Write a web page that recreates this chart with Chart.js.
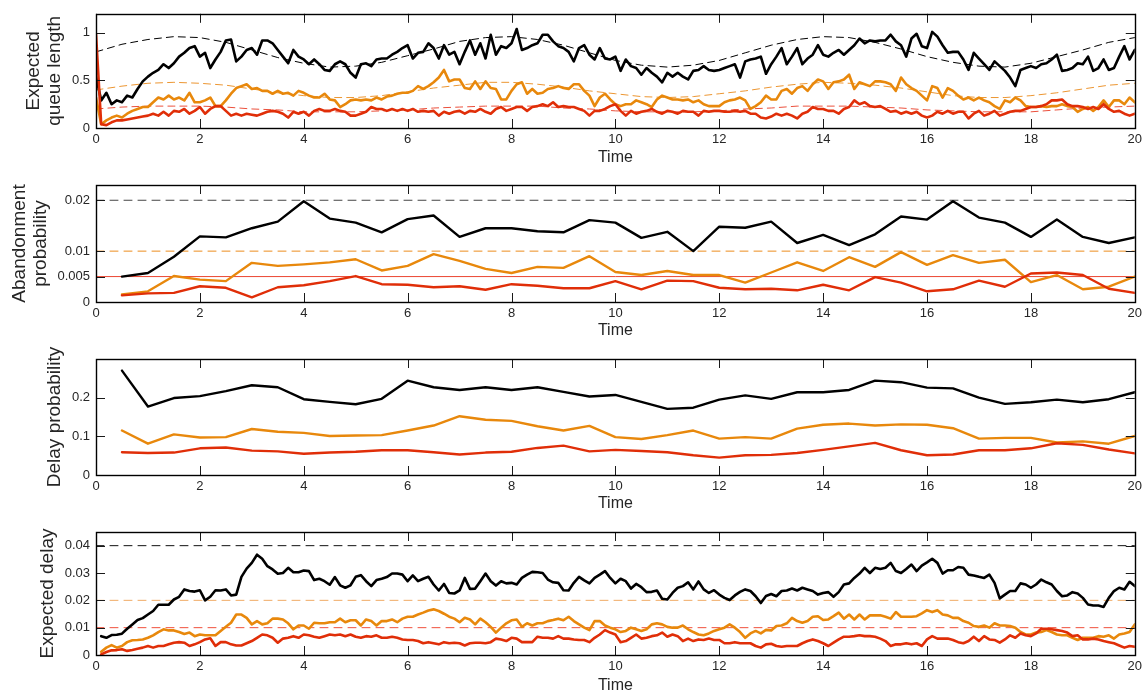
<!DOCTYPE html>
<html>
<head>
<meta charset="utf-8">
<script src="https://cdn.jsdelivr.net/npm/chart.js@4.4.1/dist/chart.umd.min.js"></script>
<style>
  html, body { margin: 0; padding: 0; background: #fff; overflow: hidden; }
  canvas { position: absolute; left: 0; }
</style>
</head>
<body>
<canvas id="queueChart" width="1146" height="167" style="top:0px"></canvas>
<canvas id="abandonChart" width="1146" height="173" style="top:167px"></canvas>
<canvas id="delayProbChart" width="1146" height="173" style="top:340px"></canvas>
<canvas id="delayChart" width="1146" height="182" style="top:513px"></canvas>
<script>
// expected queue length, sampled every 0.1 from t = 0
var queueBlack = [0.54,0.29,0.37,0.25,0.29,0.27,0.34,0.32,0.41,0.49,
  0.54,0.58,0.61,0.67,0.63,0.68,0.75,0.79,0.84,0.86,
  0.75,0.79,0.63,0.72,0.80,0.92,0.93,0.70,0.75,0.82,
  0.84,0.77,0.92,0.92,0.89,0.82,0.75,0.68,0.82,0.75,
  0.72,0.67,0.72,0.67,0.61,0.60,0.67,0.70,0.67,0.58,
  0.53,0.67,0.68,0.65,0.72,0.73,0.73,0.77,0.80,0.84,
  0.87,0.73,0.79,0.80,0.89,0.84,0.73,0.87,0.77,0.80,
  0.67,0.80,0.92,0.77,0.89,0.73,0.98,0.77,0.86,0.84,
  0.89,1.04,0.82,0.84,0.87,0.89,0.98,0.98,0.91,0.86,
  0.84,0.80,0.70,0.84,0.87,0.77,0.72,0.84,0.73,0.72,
  0.75,0.60,0.72,0.65,0.63,0.56,0.63,0.58,0.54,0.48,
  0.58,0.54,0.58,0.54,0.51,0.60,0.61,0.65,0.61,0.60,
  0.61,0.63,0.65,0.67,0.53,0.70,0.72,0.73,0.75,0.57,
  0.67,0.75,0.84,0.67,0.75,0.84,0.67,0.73,0.77,0.87,
  0.77,0.75,0.79,0.82,0.77,0.82,0.87,0.94,0.89,0.92,
  0.91,0.92,0.92,0.98,0.91,0.87,0.75,0.94,0.99,0.86,
  0.84,1.01,0.96,0.87,0.79,0.80,0.80,0.72,0.61,0.79,
  0.73,0.67,0.61,0.70,0.65,0.60,0.53,0.44,0.61,0.63,
  0.65,0.63,0.67,0.68,0.72,0.77,0.60,0.61,0.63,0.68,
  0.67,0.75,0.60,0.63,0.72,0.61,0.63,0.75,0.86,0.72,
  0.82];
var queueOrange = [0.32,0.04,0.08,0.11,0.13,0.11,0.15,0.18,0.20,0.22,
  0.22,0.27,0.32,0.30,0.34,0.30,0.32,0.29,0.37,0.27,
  0.27,0.29,0.32,0.23,0.23,0.29,0.36,0.42,0.44,0.46,
  0.41,0.42,0.39,0.39,0.36,0.39,0.36,0.37,0.34,0.39,
  0.37,0.34,0.32,0.32,0.36,0.30,0.29,0.22,0.25,0.29,
  0.30,0.29,0.30,0.29,0.32,0.30,0.33,0.34,0.36,0.37,
  0.37,0.39,0.44,0.41,0.44,0.48,0.53,0.61,0.49,0.51,
  0.51,0.42,0.41,0.49,0.41,0.49,0.42,0.41,0.30,0.30,
  0.39,0.46,0.48,0.36,0.41,0.36,0.37,0.41,0.42,0.44,
  0.42,0.41,0.46,0.46,0.39,0.34,0.23,0.32,0.36,0.30,
  0.25,0.23,0.25,0.25,0.29,0.27,0.25,0.22,0.30,0.34,
  0.32,0.30,0.30,0.29,0.30,0.27,0.29,0.25,0.23,0.23,
  0.23,0.27,0.29,0.30,0.32,0.29,0.20,0.23,0.27,0.34,
  0.30,0.30,0.39,0.41,0.36,0.42,0.44,0.39,0.46,0.51,
  0.49,0.41,0.48,0.49,0.51,0.56,0.41,0.48,0.46,0.44,
  0.49,0.49,0.48,0.46,0.39,0.53,0.46,0.42,0.39,0.34,
  0.29,0.44,0.42,0.32,0.42,0.39,0.34,0.30,0.32,0.29,
  0.32,0.29,0.27,0.23,0.20,0.29,0.27,0.32,0.29,0.23,
  0.22,0.22,0.23,0.22,0.23,0.23,0.25,0.23,0.22,0.17,
  0.20,0.22,0.18,0.22,0.29,0.22,0.29,0.29,0.25,0.32,
  0.27];
var queueRed = [0.99,0.04,0.03,0.06,0.08,0.08,0.09,0.10,0.11,0.12,
  0.13,0.15,0.13,0.17,0.13,0.18,0.17,0.20,0.15,0.18,
  0.22,0.15,0.20,0.23,0.23,0.18,0.13,0.15,0.13,0.15,
  0.14,0.13,0.15,0.17,0.18,0.17,0.15,0.11,0.17,0.15,
  0.17,0.13,0.18,0.20,0.18,0.18,0.20,0.18,0.17,0.13,
  0.13,0.15,0.17,0.22,0.20,0.20,0.18,0.20,0.18,0.20,
  0.18,0.20,0.17,0.18,0.17,0.18,0.13,0.17,0.15,0.17,
  0.18,0.15,0.18,0.17,0.20,0.17,0.15,0.20,0.22,0.18,
  0.20,0.22,0.22,0.18,0.22,0.23,0.25,0.23,0.27,0.22,
  0.23,0.22,0.22,0.20,0.18,0.13,0.18,0.18,0.20,0.23,
  0.25,0.18,0.13,0.18,0.15,0.17,0.18,0.20,0.17,0.15,
  0.18,0.17,0.15,0.18,0.17,0.17,0.13,0.18,0.17,0.18,
  0.18,0.17,0.17,0.18,0.17,0.18,0.15,0.15,0.11,0.10,
  0.12,0.15,0.13,0.15,0.13,0.10,0.15,0.17,0.22,0.20,
  0.20,0.18,0.18,0.15,0.20,0.22,0.29,0.25,0.27,0.23,
  0.22,0.23,0.20,0.17,0.18,0.15,0.17,0.15,0.17,0.13,
  0.11,0.13,0.17,0.15,0.18,0.15,0.17,0.17,0.10,0.15,
  0.18,0.13,0.15,0.18,0.13,0.15,0.17,0.18,0.18,0.20,
  0.22,0.22,0.23,0.25,0.29,0.29,0.30,0.25,0.23,0.23,
  0.22,0.20,0.22,0.20,0.25,0.20,0.17,0.18,0.15,0.13,
  0.15];

// target queue lengths, every 0.5 from t = 0
var queueTargetBlack = [0.80,0.88,0.93,0.96,0.95,0.90,0.82,0.74,0.68,0.64,0.65,0.69,0.76,0.83,0.91,0.95,0.96,0.93,0.87,0.79,0.71,
  0.66,0.64,0.66,0.71,0.79,0.87,0.93,0.96,0.95,0.90,0.83,0.75,0.69,0.65,0.64,0.68,0.75,0.82,0.90,0.95];
var queueTargetOrange = [0.40,0.44,0.47,0.48,0.47,0.45,0.41,0.37,0.34,0.32,0.32,0.34,0.38,0.42,0.45,0.48,0.48,0.46,0.43,0.39,0.36,
  0.33,0.32,0.33,0.36,0.39,0.43,0.46,0.48,0.47,0.45,0.42,0.38,0.34,0.32,0.32,0.34,0.37,0.41,0.45,0.47];
var queueTargetRed = [0.20,0.22,0.23,0.23,0.23,0.22,0.20,0.19,0.17,0.17,0.17,0.18,0.19,0.21,0.22,0.23,0.23,0.23,0.21,0.20,0.18,
  0.17,0.17,0.17,0.18,0.20,0.21,0.23,0.23,0.23,0.22,0.21,0.19,0.18,0.17,0.17,0.17,0.19,0.21,0.22,0.23];

// abandonment probability, every 0.5 from t = 0.5
var abandonBlack = [0.0050,0.0057,0.0089,0.0129,0.0127,0.0145,0.0158,0.0198,0.0164,0.0156,
  0.0137,0.0163,0.0170,0.0128,0.0145,0.0145,0.0139,0.0137,0.0161,0.0156,
  0.0126,0.0138,0.0100,0.0148,0.0146,0.0158,0.0116,0.0132,0.0112,0.0133,
  0.0168,0.0162,0.0198,0.0166,0.0156,0.0128,0.0162,0.0128,0.0116,0.0127];
var abandonOrange = [0.0015,0.0021,0.0051,0.0044,0.0041,0.0077,0.0071,0.0074,0.0078,0.0084,
  0.0062,0.0071,0.0094,0.0081,0.0065,0.0057,0.0069,0.0067,0.0090,0.0059,
  0.0053,0.0061,0.0053,0.0053,0.0038,0.0058,0.0078,0.0061,0.0088,0.0069,
  0.0098,0.0073,0.0092,0.0077,0.0083,0.0039,0.0053,0.0025,0.0030,0.0050];
var abandonRed = [0.0013,0.0017,0.0018,0.0031,0.0028,0.0009,0.0029,0.0033,0.0041,0.0051,
  0.0035,0.0034,0.0029,0.0031,0.0024,0.0035,0.0032,0.0027,0.0027,0.0041,
  0.0025,0.0042,0.0041,0.0028,0.0025,0.0026,0.0023,0.0034,0.0023,0.0049,
  0.0038,0.0021,0.0025,0.0042,0.0030,0.0056,0.0058,0.0053,0.0026,0.0018];
var abandonTargets = [0.02, 0.01, 0.005];

// delay probability, every 0.5 from t = 0.5
var delayProbBlack = [0.270,0.177,0.199,0.204,0.217,0.232,0.227,0.196,0.189,0.183,
  0.197,0.244,0.227,0.220,0.227,0.220,0.227,0.215,0.203,0.207,
  0.189,0.171,0.174,0.195,0.206,0.197,0.214,0.214,0.220,0.244,
  0.240,0.226,0.224,0.200,0.184,0.188,0.195,0.188,0.196,0.214];
var delayProbOrange = [0.115,0.081,0.105,0.097,0.098,0.119,0.112,0.109,0.101,0.102,
  0.103,0.115,0.128,0.152,0.143,0.140,0.126,0.115,0.127,0.098,
  0.093,0.103,0.115,0.094,0.098,0.094,0.120,0.130,0.133,0.128,
  0.131,0.130,0.121,0.094,0.096,0.096,0.084,0.087,0.081,0.101];
var delayProbRed = [0.059,0.057,0.058,0.069,0.071,0.063,0.061,0.055,0.058,0.060,
  0.064,0.064,0.059,0.053,0.058,0.060,0.070,0.076,0.061,0.065,
  0.062,0.059,0.051,0.045,0.051,0.052,0.057,0.065,0.074,0.083,
  0.064,0.051,0.053,0.064,0.064,0.069,0.082,0.078,0.066,0.056];

// expected delay, every 0.1 from t = 0.1
var delayBlack = [0.0069,0.0063,0.0073,0.0074,0.0078,0.0096,0.0112,0.0128,0.0135,0.0148,
  0.0161,0.0184,0.0184,0.0184,0.0203,0.0213,0.0240,0.0234,0.0232,0.0237,
  0.0200,0.0213,0.0237,0.0236,0.0240,0.0218,0.0221,0.0286,0.0316,0.0337,
  0.0367,0.0352,0.0325,0.0313,0.0297,0.0300,0.0319,0.0303,0.0303,0.0309,
  0.0307,0.0274,0.0279,0.0270,0.0257,0.0285,0.0255,0.0246,0.0255,0.0286,
  0.0292,0.0270,0.0252,0.0274,0.0279,0.0285,0.0298,0.0298,0.0294,0.0270,
  0.0291,0.0270,0.0279,0.0286,0.0258,0.0236,0.0260,0.0227,0.0225,0.0236,
  0.0282,0.0242,0.0243,0.0270,0.0298,0.0270,0.0254,0.0270,0.0262,0.0264,
  0.0258,0.0282,0.0294,0.0304,0.0303,0.0300,0.0276,0.0266,0.0264,0.0237,
  0.0236,0.0264,0.0286,0.0273,0.0262,0.0282,0.0294,0.0307,0.0282,0.0262,
  0.0279,0.0270,0.0243,0.0260,0.0248,0.0230,0.0231,0.0236,0.0206,0.0203,
  0.0227,0.0246,0.0252,0.0266,0.0240,0.0269,0.0240,0.0227,0.0237,0.0221,
  0.0209,0.0201,0.0218,0.0231,0.0240,0.0234,0.0215,0.0190,0.0216,0.0223,
  0.0215,0.0234,0.0236,0.0243,0.0236,0.0246,0.0240,0.0234,0.0221,0.0227,
  0.0230,0.0213,0.0230,0.0258,0.0262,0.0282,0.0298,0.0319,0.0300,0.0319,
  0.0315,0.0319,0.0337,0.0307,0.0300,0.0315,0.0331,0.0307,0.0327,0.0339,
  0.0352,0.0337,0.0298,0.0310,0.0310,0.0322,0.0319,0.0294,0.0291,0.0286,
  0.0282,0.0294,0.0264,0.0207,0.0221,0.0234,0.0234,0.0262,0.0258,0.0246,
  0.0258,0.0276,0.0266,0.0258,0.0234,0.0215,0.0218,0.0230,0.0225,0.0209,
  0.0185,0.0181,0.0181,0.0176,0.0209,0.0234,0.0246,0.0240,0.0268,0.0252];
var delayOrange = [0.0012,0.0027,0.0036,0.0027,0.0033,0.0047,0.0054,0.0055,0.0057,0.0063,
  0.0072,0.0084,0.0094,0.0090,0.0090,0.0084,0.0077,0.0082,0.0069,0.0075,
  0.0072,0.0072,0.0072,0.0088,0.0103,0.0118,0.0148,0.0148,0.0136,0.0112,
  0.0124,0.0112,0.0116,0.0133,0.0133,0.0130,0.0116,0.0094,0.0108,0.0108,
  0.0096,0.0118,0.0116,0.0116,0.0120,0.0120,0.0133,0.0120,0.0127,0.0127,
  0.0108,0.0130,0.0124,0.0108,0.0124,0.0124,0.0130,0.0120,0.0133,0.0140,
  0.0140,0.0148,0.0155,0.0163,0.0167,0.0161,0.0151,0.0140,0.0133,0.0120,
  0.0136,0.0130,0.0112,0.0133,0.0120,0.0103,0.0082,0.0100,0.0116,0.0127,
  0.0130,0.0103,0.0116,0.0108,0.0116,0.0116,0.0124,0.0128,0.0133,0.0127,
  0.0140,0.0124,0.0112,0.0100,0.0091,0.0124,0.0124,0.0108,0.0100,0.0094,
  0.0084,0.0088,0.0100,0.0094,0.0088,0.0094,0.0112,0.0116,0.0112,0.0103,
  0.0100,0.0100,0.0108,0.0094,0.0084,0.0075,0.0072,0.0079,0.0088,0.0094,
  0.0100,0.0112,0.0100,0.0084,0.0063,0.0079,0.0088,0.0079,0.0092,0.0090,
  0.0106,0.0108,0.0116,0.0136,0.0124,0.0118,0.0124,0.0140,0.0142,0.0128,
  0.0130,0.0142,0.0155,0.0133,0.0148,0.0130,0.0148,0.0130,0.0145,0.0145,
  0.0145,0.0140,0.0133,0.0157,0.0140,0.0140,0.0140,0.0142,0.0152,0.0164,
  0.0157,0.0164,0.0148,0.0145,0.0136,0.0136,0.0124,0.0118,0.0106,0.0103,
  0.0108,0.0100,0.0116,0.0108,0.0108,0.0106,0.0100,0.0084,0.0075,0.0075,
  0.0082,0.0084,0.0091,0.0084,0.0075,0.0072,0.0072,0.0063,0.0055,0.0063,
  0.0063,0.0063,0.0069,0.0067,0.0072,0.0060,0.0075,0.0079,0.0084,0.0112];
var delayRed = [0.0002,0.0011,0.0017,0.0018,0.0021,0.0015,0.0018,0.0023,0.0027,0.0033,
  0.0027,0.0033,0.0033,0.0039,0.0045,0.0047,0.0045,0.0033,0.0039,0.0047,
  0.0057,0.0061,0.0033,0.0047,0.0047,0.0039,0.0035,0.0035,0.0043,0.0051,
  0.0063,0.0075,0.0072,0.0063,0.0045,0.0060,0.0063,0.0069,0.0063,0.0075,
  0.0072,0.0067,0.0063,0.0069,0.0075,0.0072,0.0075,0.0069,0.0075,0.0067,
  0.0063,0.0069,0.0067,0.0072,0.0063,0.0063,0.0067,0.0063,0.0057,0.0055,
  0.0055,0.0051,0.0043,0.0047,0.0043,0.0039,0.0047,0.0043,0.0045,0.0043,
  0.0035,0.0043,0.0045,0.0045,0.0043,0.0047,0.0060,0.0057,0.0051,0.0063,
  0.0060,0.0047,0.0047,0.0047,0.0067,0.0063,0.0063,0.0060,0.0069,0.0060,
  0.0060,0.0057,0.0055,0.0055,0.0047,0.0063,0.0075,0.0091,0.0082,0.0075,
  0.0047,0.0051,0.0063,0.0075,0.0060,0.0063,0.0069,0.0072,0.0082,0.0067,
  0.0075,0.0069,0.0051,0.0060,0.0051,0.0057,0.0055,0.0060,0.0055,0.0055,
  0.0043,0.0043,0.0047,0.0043,0.0043,0.0043,0.0033,0.0027,0.0039,0.0041,
  0.0033,0.0030,0.0033,0.0033,0.0033,0.0043,0.0051,0.0057,0.0051,0.0043,
  0.0033,0.0045,0.0057,0.0067,0.0067,0.0069,0.0072,0.0069,0.0069,0.0067,
  0.0060,0.0051,0.0033,0.0039,0.0039,0.0043,0.0039,0.0043,0.0033,0.0057,
  0.0069,0.0060,0.0060,0.0060,0.0055,0.0047,0.0043,0.0051,0.0067,0.0051,
  0.0069,0.0057,0.0055,0.0045,0.0057,0.0072,0.0063,0.0079,0.0072,0.0069,
  0.0079,0.0096,0.0096,0.0094,0.0091,0.0088,0.0082,0.0069,0.0072,0.0057,
  0.0057,0.0060,0.0057,0.0051,0.0047,0.0043,0.0035,0.0027,0.0033,0.0030];
var delayTargets = [0.04, 0.02, 0.01];

// sample times
var tQueue = queueBlack.map(function (v, i) { return +(i * 0.1).toFixed(1); });
var tTarget = queueTargetBlack.map(function (v, i) { return i * 0.5; });
var tHalf = abandonBlack.map(function (v, i) { return (i + 1) * 0.5; });
var tDelay = delayBlack.map(function (v, i) { return +((i + 1) * 0.1).toFixed(1); });

var BLACK = '#000000', ORANGE = 'rgb(232,136,12)', RED = 'rgb(224,46,8)';
var textColor = '#262626';
var fontFamily = '"Liberation Sans", Arial, sans-serif';

function series(xs, ys, color, width, dash, order) {
  return {
    data: xs.map(function (x, i) { return { x: x, y: ys[i] }; }),
    borderColor: color,
    borderWidth: width,
    borderDash: dash || [],
    order: order,
    pointRadius: 0,
    fill: false
  };
}

function hline(v, color, dash) {
  return series([0, 20], [v, v], color, 1, dash, 5);
}

// box around the plot area with ticks pointing inwards on all four sides
var frame = {
  id: 'frame',
  afterDatasetsDraw: function (chart) {
    var ctx = chart.ctx, a = chart.chartArea, x = chart.scales.x, y = chart.scales.y;
    var len = 9;
    ctx.save();
    ctx.strokeStyle = '#1a1a1a';
    ctx.lineWidth = 1;
    ctx.beginPath();
    x.ticks.forEach(function (t) {
      var px = Math.round(x.getPixelForValue(t.value)) + 0.5;
      ctx.moveTo(px, a.bottom); ctx.lineTo(px, a.bottom - len);
      ctx.moveTo(px, a.top); ctx.lineTo(px, a.top + len);
    });
    y.ticks.forEach(function (t) {
      var py = Math.round(y.getPixelForValue(t.value)) + 0.5;
      ctx.moveTo(a.left, py); ctx.lineTo(a.left + len, py);
      ctx.moveTo(a.right, py); ctx.lineTo(a.right - len, py);
    });
    ctx.stroke();
    ctx.strokeStyle = '#000';
    ctx.lineWidth = 1.4;
    ctx.strokeRect(Math.round(a.left) + 0.5, Math.round(a.top) + 0.5,
      Math.round(a.right - a.left), Math.round(a.bottom - a.top));
    ctx.restore();
  }
};

function makeChart(id, cfg) {
  return new Chart(document.getElementById(id), {
    type: 'line',
    data: { datasets: cfg.datasets },
    options: {
      responsive: false,
      animation: false,
      devicePixelRatio: 1,
      layout: { padding: { top: cfg.top, right: 8, left: 0, bottom: 0 } },
      elements: { line: { tension: 0, borderJoinStyle: 'round', borderCapStyle: 'round' } },
      plugins: { legend: { display: false }, tooltip: { enabled: false } },
      scales: {
        x: {
          type: 'linear', min: 0, max: 20,
          grid: { display: false, drawTicks: false },
          border: { display: false },
          ticks: { stepSize: 2, padding: 4, maxRotation: 0, color: textColor,
            font: { family: fontFamily, size: 13 } },
          title: { display: true, text: 'Time', color: textColor, padding: 0,
            font: { family: fontFamily, size: 16 } },
          afterFit: function (s) { s.height = cfg.xHeight; }
        },
        y: {
          type: 'linear', min: 0, max: cfg.yMax,
          grid: { display: false, drawTicks: false },
          border: { display: false },
          afterBuildTicks: function (s) { s.ticks = cfg.yTicks.map(function (v) { return { value: v }; }); },
          ticks: { padding: 6, color: textColor, font: { family: fontFamily, size: 13 },
            callback: function (v) { return String(+v.toFixed(4)); } },
          title: { display: true, text: cfg.yTitle, color: textColor,
            padding: { top: cfg.yTitlePad, bottom: 0 },
            font: { family: fontFamily, size: 19, lineHeight: 1.1 } },
          afterFit: function (s) { s.width = 96; }
        }
      }
    },
    plugins: [frame]
  });
}

makeChart('queueChart', {
  top: 12, xHeight: 39, yMax: 1.2, yTicks: [0, 0.5, 1],
  yTitle: ['Expected', 'queue length'], yTitlePad: 23,
  datasets: [
    series(tQueue, queueRed, RED, 2.6, null, 0),
    series(tQueue, queueOrange, ORANGE, 2.6, null, 1),
    series(tQueue, queueBlack, BLACK, 2.6, null, 2),
    series(tTarget, queueTargetBlack, BLACK, 1, [7, 5], 5),
    series(tTarget, queueTargetOrange, 'rgb(236,150,50)', 1, [7, 5], 5),
    series(tTarget, queueTargetRed, 'rgb(235,80,60)', 1, [7, 5], 5)
  ]
});

makeChart('abandonChart', {
  top: 18, xHeight: 38, yMax: 0.023, yTicks: [0, 0.005, 0.01, 0.02],
  yTitle: ['Abandonment', 'probability'], yTitlePad: 9,
  datasets: [
    series(tHalf, abandonRed, RED, 2.4, null, 0),
    series(tHalf, abandonOrange, ORANGE, 2.4, null, 1),
    series(tHalf, abandonBlack, BLACK, 2.4, null, 2),
    hline(abandonTargets[0], '#444', [8, 6]),
    hline(abandonTargets[1], 'rgb(236,140,30)', [8, 6]),
    hline(abandonTargets[2], 'rgb(235,70,50)', [])
  ]
});

makeChart('delayProbChart', {
  top: 19, xHeight: 38, yMax: 0.3, yTicks: [0, 0.1, 0.2],
  yTitle: 'Delay probability', yTitlePad: 44,
  datasets: [
    series(tHalf, delayProbRed, RED, 2.4, null, 0),
    series(tHalf, delayProbOrange, ORANGE, 2.4, null, 1),
    series(tHalf, delayProbBlack, BLACK, 2.4, null, 2)
  ]
});

makeChart('delayChart', {
  top: 19, xHeight: 40, yMax: 0.045, yTicks: [0, 0.01, 0.02, 0.03, 0.04],
  yTitle: 'Expected delay', yTitlePad: 37,
  datasets: [
    series(tDelay, delayRed, RED, 2.6, null, 0),
    series(tDelay, delayOrange, ORANGE, 2.6, null, 1),
    series(tDelay, delayBlack, BLACK, 2.6, null, 2),
    hline(delayTargets[0], '#111', [8, 6]),
    hline(delayTargets[1], 'rgb(240,170,100)', [8, 6]),
    hline(delayTargets[2], 'rgb(240,80,60)', [8, 6])
  ]
});
</script>
</body>
</html>
